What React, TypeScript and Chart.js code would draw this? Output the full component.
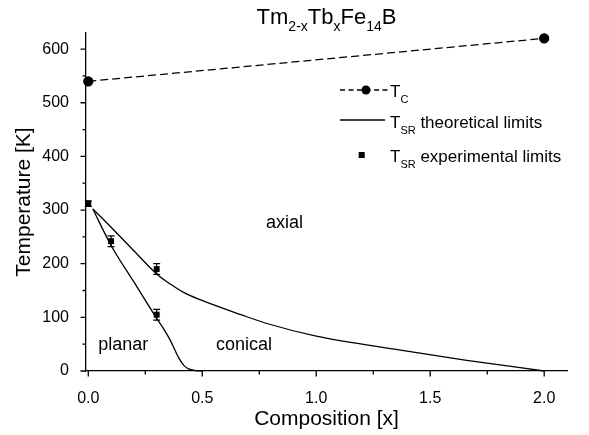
import React, { useEffect, useRef } from "react";
import { Chart, registerables } from "chart.js";

Chart.register(...registerables);

// ---- Data ----
const TC_X = [0, 2.0];
const TC_Y = [540, 620];

const THEORY_UPPER_X = [0.02, 0.1, 0.2, 0.3, 0.36, 0.42, 0.49, 0.67, 0.78, 1.0, 1.37, 1.66, 2.0];
const THEORY_UPPER_Y = [302, 268, 224, 181, 162, 146, 133, 105, 89, 65, 39, 20, 0];

const THEORY_LOWER_X = [0.02, 0.1, 0.2, 0.3, 0.33, 0.36, 0.38, 0.4, 0.42, 0.44, 0.47, 0.5];
const THEORY_LOWER_Y = [302, 234, 166, 98, 79, 57, 39, 22, 10, 4, 0.8, 0];

const EXP_X = [0, 0.1, 0.3, 0.3];
const EXP_Y = [312, 242, 190, 105];
const EXP_ERR = [5, 10, 10, 10];

const X_TICKS = [0, 0.5, 1.0, 1.5, 2.0];
const X_MINOR = [0.25, 0.75, 1.25, 1.75];
const Y_TICKS = [0, 100, 200, 300, 400, 500, 600];
const Y_MINOR = [50, 150, 250, 350, 450, 550];
const X_MIN = -0.01;
const X_MAX = 2.1;
const Y_MIN = 0;
const Y_MAX = 630;

const REGION_NAMES = ["axial", "planar", "conical"];
const REGION_X = [0.78, 0.044, 0.56];
const REGION_Y = [267, 39, 39];

const FONT = '"Liberation Sans", Arial, Helvetica, sans-serif';
const INK = "#000000";

function drawSubText(
  ctx: CanvasRenderingContext2D,
  parts: { t: string; sub?: boolean }[],
  x: number,
  y: number,
  size: number,
  subSize: number,
  subDrop: number
) {
  let cx = x;
  for (const p of parts) {
    ctx.font = `${p.sub ? subSize : size}px ${FONT}`;
    ctx.fillText(p.t, cx, p.sub ? y + subDrop : y);
    cx += ctx.measureText(p.t).width;
  }
}

function measureSubText(
  ctx: CanvasRenderingContext2D,
  parts: { t: string; sub?: boolean }[],
  size: number,
  subSize: number
) {
  let w = 0;
  for (const p of parts) {
    ctx.font = `${p.sub ? subSize : size}px ${FONT}`;
    w += ctx.measureText(p.t).width;
  }
  return w;
}

const decorPlugin = {
  id: "decor",
  afterDatasetsDraw(chart: any) {
    const ctx: CanvasRenderingContext2D = chart.ctx;
    const xs = chart.scales.x;
    const ys = chart.scales.y;
    const area = chart.chartArea;
    ctx.save();
    ctx.strokeStyle = INK;
    ctx.fillStyle = INK;
    ctx.lineWidth = 1.2;

    // error bars
    for (let i = 0; i < EXP_X.length; i++) {
      const px = xs.getPixelForValue(EXP_X[i]);
      const top = ys.getPixelForValue(EXP_Y[i] + EXP_ERR[i]);
      const bot = ys.getPixelForValue(EXP_Y[i] - EXP_ERR[i]);
      ctx.beginPath();
      ctx.moveTo(px, top);
      ctx.lineTo(px, bot);
      ctx.moveTo(px - 3.5, top);
      ctx.lineTo(px + 3.5, top);
      ctx.moveTo(px - 3.5, bot);
      ctx.lineTo(px + 3.5, bot);
      ctx.stroke();
    }

    // tick marks
    ctx.lineWidth = 1.3;
    ctx.beginPath();
    for (const v of X_TICKS) {
      const px = xs.getPixelForValue(v);
      ctx.moveTo(px, area.bottom);
      ctx.lineTo(px, area.bottom + 5.5);
    }
    for (const v of X_MINOR) {
      const px = xs.getPixelForValue(v);
      ctx.moveTo(px, area.bottom);
      ctx.lineTo(px, area.bottom + 3.5);
    }
    for (const v of Y_TICKS) {
      const py = ys.getPixelForValue(v);
      ctx.moveTo(area.left - 5.5, py);
      ctx.lineTo(area.left, py);
    }
    for (const v of Y_MINOR) {
      const py = ys.getPixelForValue(v);
      ctx.moveTo(area.left - 3.5, py);
      ctx.lineTo(area.left, py);
    }
    ctx.stroke();

    // region labels
    ctx.textBaseline = "alphabetic";
    ctx.textAlign = "left";
    ctx.font = `18px ${FONT}`;
    for (let i = 0; i < REGION_NAMES.length; i++) {
      ctx.fillText(REGION_NAMES[i], xs.getPixelForValue(REGION_X[i]), ys.getPixelForValue(REGION_Y[i]));
    }

    // title
    const titleParts = [
      { t: "Tm" },
      { t: "2-x", sub: true },
      { t: "Tb" },
      { t: "x", sub: true },
      { t: "Fe" },
      { t: "14", sub: true },
      { t: "B" },
    ];
    const tw = measureSubText(ctx, titleParts, 22, 14);
    const tcx = (area.left + area.right) / 2;
    drawSubText(ctx, titleParts, tcx - tw / 2, 23.5, 22, 14, 7.5);

    // legend
    const lx0 = 340;
    const tx = 390;
    // row 1: Tc
    ctx.lineWidth = 1.3;
    ctx.setLineDash([5, 3.5]);
    ctx.beginPath();
    ctx.moveTo(lx0, 90);
    ctx.lineTo(lx0 + 48, 90);
    ctx.stroke();
    ctx.setLineDash([]);
    ctx.beginPath();
    ctx.arc(366, 90, 4.5, 0, Math.PI * 2);
    ctx.fill();
    ctx.fillStyle = INK;
    drawSubText(ctx, [{ t: "T" }, { t: "C", sub: true }], tx, 97, 17, 11, 6);
    // row 2: theoretical
    ctx.beginPath();
    ctx.moveTo(lx0, 120);
    ctx.lineTo(lx0 + 45, 120);
    ctx.stroke();
    drawSubText(ctx, [{ t: "T" }, { t: "SR", sub: true }, { t: " theoretical limits" }], tx, 127.5, 17, 11, 6);
    // row 3: experimental
    ctx.fillRect(361.7 - 3, 155 - 3, 6, 6);
    drawSubText(ctx, [{ t: "T" }, { t: "SR", sub: true }, { t: " experimental limits" }], tx, 162, 17, 11, 6);

    ctx.restore();
  },
};

function pts(xs: number[], ys: number[]) {
  return xs.map((x, i) => ({ x, y: ys[i] }));
}

export default function App() {
  const ref = useRef<HTMLCanvasElement | null>(null);

  useEffect(() => {
    document.body.style.margin = "0";
    const canvas = ref.current;
    if (!canvas) return;
    const chart = new Chart(canvas, {
      type: "scatter",
      data: {
        datasets: [
          {
            label: "Tc",
            data: pts(TC_X, TC_Y),
            showLine: true,
            borderColor: INK,
            backgroundColor: INK,
            borderWidth: 1.3,
            borderDash: [8, 4],
            pointRadius: 4.5,
            pointStyle: "circle",
          },
          {
            label: "TSR theoretical upper",
            data: pts(THEORY_UPPER_X, THEORY_UPPER_Y),
            showLine: true,
            borderColor: INK,
            borderWidth: 1.3,
            pointRadius: 0,
            cubicInterpolationMode: "monotone",
          },
          {
            label: "TSR theoretical lower",
            data: pts(THEORY_LOWER_X, THEORY_LOWER_Y),
            showLine: true,
            borderColor: INK,
            borderWidth: 1.3,
            pointRadius: 0,
            cubicInterpolationMode: "monotone",
          },
          {
            label: "TSR experimental",
            data: pts(EXP_X, EXP_Y),
            showLine: false,
            borderColor: INK,
            backgroundColor: INK,
            pointStyle: "rect",
            pointRadius: 4.2,
            borderWidth: 0,
          },
        ],
      },
      options: {
        responsive: false,
        animation: false,
        events: [],
        clip: false as any,
        layout: { padding: { top: 33, right: 22, left: 0, bottom: 0 } },
        plugins: {
          legend: { display: false },
          tooltip: { enabled: false },
          title: { display: false },
        },
        scales: {
          x: {
            type: "linear",
            min: X_MIN,
            max: X_MAX,
            grid: { display: false },
            border: { display: true, color: INK, width: 1.3 },
            ticks: {
              color: INK,
              font: { family: FONT, size: 16 },
              padding: 10,
              includeBounds: false,
              callback: (v: any) => Number(v).toFixed(1),
            },
            afterBuildTicks: (s: any) => {
              s.ticks = X_TICKS.map((v) => ({ value: v }));
            },
            afterFit: (s: any) => {
              s.height = 64;
            },
            title: {
              display: true,
              text: "Composition [x]",
              color: INK,
              font: { family: FONT, size: 21 },
              padding: { top: 0, bottom: 3 },
            },
          },
          y: {
            type: "linear",
            min: Y_MIN,
            max: Y_MAX,
            grid: { display: false },
            border: { display: true, color: INK, width: 1.3 },
            ticks: {
              color: INK,
              font: { family: FONT, size: 16 },
              padding: 9,
              includeBounds: false,
            },
            afterBuildTicks: (s: any) => {
              s.ticks = Y_TICKS.map((v) => ({ value: v }));
            },
            afterFit: (s: any) => {
              s.width = 86;
            },
            title: {
              display: true,
              text: "Temperature [K]",
              color: INK,
              font: { family: FONT, size: 21 },
              padding: { top: 12, bottom: 0 },
            },
          },
        },
      },
      plugins: [decorPlugin],
    });
    return () => chart.destroy();
  }, []);

  return (
    <div style={{ width: 589, height: 435, position: "relative", background: "#fff" }}>
      <canvas ref={ref} width={589} height={435} style={{ width: 589, height: 435, display: "block" }} />
    </div>
  );
}
